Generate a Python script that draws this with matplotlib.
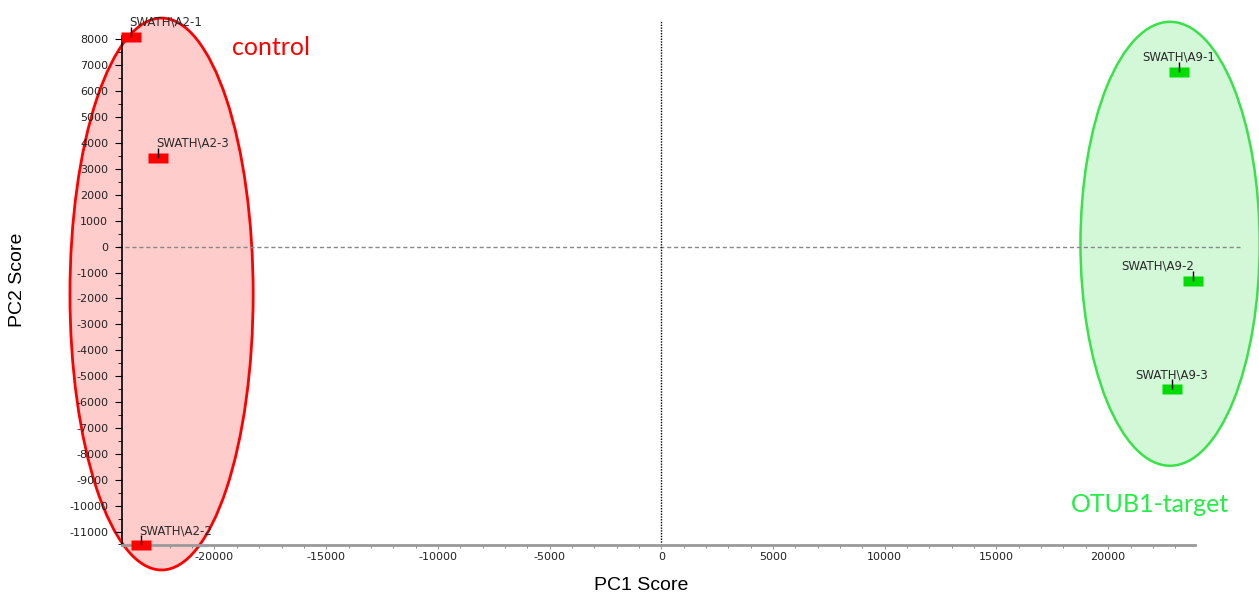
import numpy as np
import matplotlib
matplotlib.use("Agg")
import matplotlib.pyplot as plt
from matplotlib.patches import Ellipse
from matplotlib.path import Path
from matplotlib.ticker import FixedLocator

plt.rcParams['axes.unicode_minus'] = False

# PCA scores
ctrl_names = ["SWATH\\A2-1", "SWATH\\A2-3", "SWATH\\A2-2"]
ctrl_pc1 = [-23730, -22530, -23290]
ctrl_pc2 = [8110, 3440, -11520]
ctrl_ha = ["left", "left", "left"]

tgt_names = ["SWATH\\A9-1", "SWATH\\A9-2", "SWATH\\A9-3"]
tgt_pc1 = [23150, 23780, 22840]
tgt_pc2 = [6760, -1310, -5510]
tgt_ha = ["center", "right", "center"]

group_labels = ["control", "OTUB1-target"]

x_major = list(range(-20000, 20001, 5000))
x_minor = [t for t in range(-24000, 23001, 1000) if t % 5000 != 0]
y_major = list(range(-11000, 8001, 1000))
y_minor = list(range(-11500, 8001, 500))

# group ellipses (center x, center y, width, height) in data units
ctrl_ell = (-22370, -1830, 8200, 21310)
tgt_ell = (22770, 110, 8020, 17140)

xlim = (-24140, 25900)
ylim = (-11520, 8750)

fig = plt.figure(figsize=(12.59, 6), dpi=100)
ax = fig.add_axes([122 / 1259, 55 / 600, (1240 - 122) / 1259, 525 / 600])
ax.set_xlim(*xlim)
ax.set_ylim(*ylim)

# ellipses behind everything
e1 = Ellipse(ctrl_ell[:2], ctrl_ell[2], ctrl_ell[3], facecolor="#ffcccc",
             edgecolor="#ff0000", lw=2, zorder=0.5, clip_on=False)
e2 = Ellipse(tgt_ell[:2], tgt_ell[2], tgt_ell[3], facecolor="#d2f8d8",
             edgecolor="#3ae24a", lw=1.8, zorder=0.5, clip_on=False)
ax.add_patch(e1)
ax.add_patch(e2)

# zero lines
ax.plot([xlim[0] - 200, xlim[1]], [0, 0], ls=(0, (3, 2)), color="#888888",
        lw=1, zorder=1, clip_on=False)
ax.plot([0, 0], [ylim[0], ylim[1]], ls=(0, (1, 1)), color="black", lw=1, zorder=1)

rect = Path([(-1, -0.5), (1, -0.5), (1, 0.5), (-1, 0.5), (-1, -0.5)])
tick = Path([(0, 0), (0, 1)], [Path.MOVETO, Path.LINETO])

for xs, ys, names, has, col in [(ctrl_pc1, ctrl_pc2, ctrl_names, ctrl_ha, "#ff0000"),
                                (tgt_pc1, tgt_pc2, tgt_names, tgt_ha, "#00dd00")]:
    ax.plot(xs, ys, ls="none", marker=rect, ms=14, mfc=col, mec="none", zorder=3, clip_on=False)
    ax.plot(xs, ys, ls="none", marker=tick, ms=14, mec="black", mew=1, zorder=4, clip_on=False)
    for x, y, n, ha in zip(xs, ys, names, has):
        dx = {"left": -2, "center": 0, "right": 1}[ha]
        ax.annotate(n, (x, y), xytext=(dx, 8), textcoords="offset pixels",
                    ha=ha, va="bottom", fontsize=8.5, color="#2a2a2a", zorder=5)

ax.text(-19210, 7670, group_labels[0], color="#ff0000", fontsize=18,
        family="Lato", ha="left", va="center")
ax.text(21850, -9970, group_labels[1], color="#22ee44", fontsize=18,
        family="Lato", ha="center", va="center", clip_on=False)

# axes styling
for s in ["top", "right"]:
    ax.spines[s].set_visible(False)
ax.spines["left"].set_bounds(ylim[0], 8150)
ax.spines["left"].set_linewidth(1.2)
ax.spines["bottom"].set_bounds(xlim[0], 23900)
ax.spines["bottom"].set_color("#999999")
ax.spines["bottom"].set_linewidth(2)
ax.spines["left"].set_zorder(2)

ax.xaxis.set_major_locator(FixedLocator(x_major))
ax.xaxis.set_minor_locator(FixedLocator(x_minor))
ax.yaxis.set_major_locator(FixedLocator(y_major))
ax.yaxis.set_minor_locator(FixedLocator(y_minor))
ax.tick_params(axis="x", which="major", length=3, color="#999999", labelsize=8,
               labelcolor="#222222", pad=2)
ax.tick_params(axis="x", which="minor", length=2, color="#777777")
ax.tick_params(axis="y", which="major", length=5, labelsize=8, labelcolor="#222222", pad=5)
ax.tick_params(axis="y", which="minor", length=3)

fig.text(641 / 1259, 1 - 586 / 600, "PC1 Score", fontsize=14, family="Liberation Sans",
         ha="center", va="center")
fig.text(18 / 1259, 1 - 280 / 600, "PC2 Score", fontsize=14, family="Liberation Sans",
         ha="center", va="center", rotation=90)

fig.savefig("out.png", dpi=100)
